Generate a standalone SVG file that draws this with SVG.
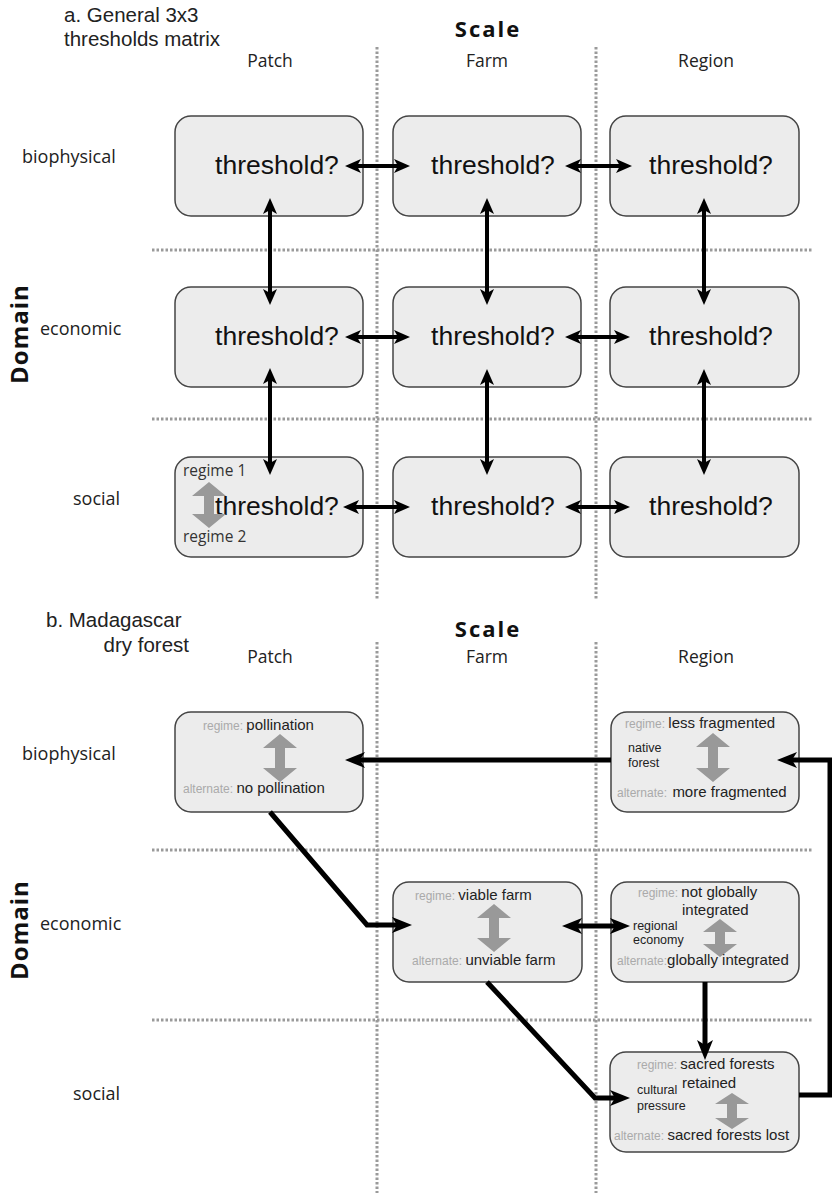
<svg xmlns="http://www.w3.org/2000/svg" width="832" height="1195" viewBox="0 0 832 1195">
<style>
.bg{fill:#fff}
.dot{stroke:#9a9a9a;stroke-width:3;stroke-dasharray:2.5 2;fill:none}
.box{fill:#ececec;stroke:#444;stroke-width:1.5}
.ttl{font-family:"Liberation Sans",Arial,sans-serif;font-size:20.5px;fill:#222}
.scale{font-family:"Open Sans","DejaVu Sans",sans-serif;font-weight:bold;font-size:22px;letter-spacing:2px;fill:#111}
.dom{font-family:"Open Sans","DejaVu Sans",sans-serif;font-weight:bold;font-size:24px;letter-spacing:1px;fill:#111}
.col{font-family:"Open Sans","DejaVu Sans",sans-serif;font-size:17.5px;fill:#222}
.row{font-family:"Open Sans","DejaVu Sans",sans-serif;font-size:18px;fill:#222}
.thr{font-family:"Liberation Sans",Arial,sans-serif;font-size:26.5px;fill:#111}
.reg{font-family:"Open Sans","DejaVu Sans",sans-serif;font-size:15.5px;fill:#333}
.lab{font-family:"Liberation Sans",Arial,sans-serif;font-size:12px;fill:#aaa}
.val{font-family:"Liberation Sans",Arial,sans-serif;font-size:15px;fill:#222}
.sm{font-family:"Liberation Sans",Arial,sans-serif;font-size:12.5px;fill:#222}
.ga{fill:#999}
.ca{stroke:#000;stroke-width:4;fill:none;marker-start:url(#ah);marker-end:url(#ah)}
.cb{stroke:#000;stroke-width:5;fill:none;stroke-linejoin:miter;marker-end:url(#bh)}
</style>
<defs>
<marker id="ah" viewBox="0 0 16 14" refX="4" refY="7" markerWidth="16" markerHeight="14" markerUnits="userSpaceOnUse" orient="auto-start-reverse">
<path d="M0,0 L16,7 L0,14 L4,7 Z" fill="#000"/>
</marker>
<marker id="bh" viewBox="0 0 20 16" refX="5" refY="8" markerWidth="20" markerHeight="16" markerUnits="userSpaceOnUse" orient="auto-start-reverse">
<path d="M0,0 L20,8 L0,16 L5,8 Z" fill="#000"/>
</marker>
</defs>
<rect class="bg" x="0" y="0" width="832" height="1195"/>

<!-- ===== Part a ===== -->
<g id="grid-a">
<line class="dot" x1="377" y1="47" x2="377" y2="600"/>
<line class="dot" x1="596" y1="47" x2="596" y2="600"/>
<line class="dot" x1="152" y1="250" x2="812" y2="250"/>
<line class="dot" x1="152" y1="419" x2="812" y2="419"/>
</g>
<g id="labels-a">
<text class="ttl" x="64" y="22">a. General 3x3</text>
<text class="ttl" x="64" y="46">thresholds matrix</text>
<text class="scale" x="488" y="37" text-anchor="middle">Scale</text>
<text class="col" x="270" y="67" text-anchor="middle">Patch</text>
<text class="col" x="487" y="67" text-anchor="middle">Farm</text>
<text class="col" x="706" y="67" text-anchor="middle">Region</text>
<text class="row" x="22" y="163">biophysical</text>
<text class="row" x="40" y="335">economic</text>
<text class="row" x="73" y="505">social</text>
<text class="dom" transform="translate(28,334) rotate(-90)" text-anchor="middle">Domain</text>
</g>

<g id="a-bio-patch"><rect class="box" x="175" y="116" width="188" height="100" rx="16"/><text class="thr" x="277" y="174" text-anchor="middle">threshold?</text></g>
<g id="a-bio-farm"><rect class="box" x="393" y="116" width="188" height="100" rx="16"/><text class="thr" x="493" y="174" text-anchor="middle">threshold?</text></g>
<g id="a-bio-region"><rect class="box" x="610" y="116" width="189" height="100" rx="16"/><text class="thr" x="711" y="174" text-anchor="middle">threshold?</text></g>
<g id="a-eco-patch"><rect class="box" x="175" y="287" width="188" height="100" rx="16"/><text class="thr" x="277" y="345" text-anchor="middle">threshold?</text></g>
<g id="a-eco-farm"><rect class="box" x="393" y="287" width="188" height="100" rx="16"/><text class="thr" x="493" y="345" text-anchor="middle">threshold?</text></g>
<g id="a-eco-region"><rect class="box" x="610" y="287" width="189" height="100" rx="16"/><text class="thr" x="711" y="345" text-anchor="middle">threshold?</text></g>
<g id="a-soc-patch"><rect class="box" x="175" y="457" width="188" height="100" rx="16"/><text class="thr" x="277" y="515" text-anchor="middle">threshold?</text>
<text class="reg" x="183" y="476">regime 1</text><text class="reg" x="183" y="542">regime 2</text>
<polygon class="ga" points="209,482 226,496 214,496 214,514 226,514 209,528 192,514 204,514 204,496 192,496"/></g>
<g id="a-soc-farm"><rect class="box" x="393" y="457" width="188" height="100" rx="16"/><text class="thr" x="493" y="515" text-anchor="middle">threshold?</text></g>
<g id="a-soc-region"><rect class="box" x="610" y="457" width="189" height="100" rx="16"/><text class="thr" x="711" y="515" text-anchor="middle">threshold?</text></g>

<g id="connectors-a">
<line class="ca" x1="357" y1="166" x2="398" y2="166"/>
<line class="ca" x1="577" y1="166" x2="620" y2="166"/>
<line class="ca" x1="357" y1="337" x2="398" y2="337"/>
<line class="ca" x1="577" y1="337" x2="618" y2="337"/>
<line class="ca" x1="355" y1="507" x2="398" y2="507"/>
<line class="ca" x1="577" y1="507" x2="618" y2="507"/>
<line class="ca" x1="270" y1="210" x2="270" y2="293"/>
<line class="ca" x1="487" y1="210" x2="487" y2="293"/>
<line class="ca" x1="704" y1="210" x2="704" y2="293"/>
<line class="ca" x1="270" y1="380" x2="270" y2="463"/>
<line class="ca" x1="487" y1="381" x2="487" y2="463"/>
<line class="ca" x1="704" y1="381" x2="704" y2="463"/>
</g>

<!-- ===== Part b ===== -->
<g id="grid-b">
<line class="dot" x1="377" y1="642" x2="377" y2="1193"/>
<line class="dot" x1="596" y1="642" x2="596" y2="1193"/>
<line class="dot" x1="152" y1="850" x2="812" y2="850"/>
<line class="dot" x1="152" y1="1020" x2="812" y2="1020"/>
</g>
<g id="labels-b">
<text class="ttl" x="46" y="627">b. Madagascar</text>
<text class="ttl" x="189" y="652" text-anchor="end">dry forest</text>
<text class="scale" x="488" y="637" text-anchor="middle">Scale</text>
<text class="col" x="270" y="663" text-anchor="middle">Patch</text>
<text class="col" x="487" y="663" text-anchor="middle">Farm</text>
<text class="col" x="706" y="663" text-anchor="middle">Region</text>
<text class="row" x="22" y="760">biophysical</text>
<text class="row" x="40" y="930">economic</text>
<text class="row" x="73" y="1100">social</text>
<text class="dom" transform="translate(28,930) rotate(-90)" text-anchor="middle">Domain</text>
</g>

<g id="b-bio-patch"><rect class="box" x="175" y="712" width="188" height="100" rx="16"/>
<text x="203" y="730"><tspan class="lab">regime: </tspan><tspan class="val">pollination</tspan></text>
<polygon class="ga" points="280,734 297,748 285,748 285,768 297,768 280,782 263,768 275,768 275,748 263,748"/>
<text x="183" y="793"><tspan class="lab">alternate: </tspan><tspan class="val">no pollination</tspan></text></g>

<g id="b-bio-region"><rect class="box" x="611" y="712" width="188" height="100" rx="16"/>
<text x="625" y="728"><tspan class="lab">regime: </tspan><tspan class="val">less fragmented</tspan></text>
<text class="sm" x="628" y="752">native</text><text class="sm" x="628" y="767">forest</text>
<polygon class="ga" points="713,733 730,747 718,747 718,768 730,768 713,782 696,768 708,768 708,747 696,747"/>
<text x="617" y="797"><tspan class="lab">alternate: </tspan><tspan class="val" dx="2">more fragmented</tspan></text></g>

<g id="b-eco-farm"><rect class="box" x="393" y="882" width="189" height="100" rx="16"/>
<text x="415" y="900"><tspan class="lab">regime: </tspan><tspan class="val">viable farm</tspan></text>
<polygon class="ga" points="494,904 511,918 499,918 499,938 511,938 494,952 477,938 489,938 489,918 477,918"/>
<text x="412" y="965"><tspan class="lab">alternate: </tspan><tspan class="val">unviable farm</tspan></text></g>

<g id="b-eco-region"><rect class="box" x="611" y="882" width="188" height="100" rx="16"/>
<text x="638" y="897"><tspan class="lab">regime: </tspan><tspan class="val">not globally</tspan></text>
<text class="val" x="682" y="915">integrated</text>
<text class="sm" x="633" y="930">regional</text><text class="sm" x="633" y="944">economy</text>
<polygon class="ga" points="720,919 737,932 725,932 725,944 737,944 720,957 703,944 715,944 715,932 703,932"/>
<text x="617" y="965"><tspan class="lab">alternate:</tspan><tspan class="val">globally integrated</tspan></text></g>

<g id="b-soc-region"><rect class="box" x="610" y="1052" width="189" height="100" rx="16"/>
<text x="637" y="1069"><tspan class="lab">regime: </tspan><tspan class="val">sacred forests</tspan></text>
<text class="val" x="682" y="1088">retained</text>
<text class="sm" x="637" y="1094">cultural</text><text class="sm" x="637" y="1110">pressure</text>
<polygon class="ga" points="732,1093 749,1104 737,1104 737,1118 749,1118 732,1129 715,1118 727,1118 727,1104 715,1104"/>
<text x="614" y="1140"><tspan class="lab">alternate: </tspan><tspan class="val">sacred forests lost</tspan></text></g>

<g id="connectors-b">
<line class="cb" x1="611" y1="760" x2="360" y2="760"/>
<polyline class="cb" points="799,1095 830,1095 830,760 792,760"/>
<polyline class="cb" points="270,812 367,925 397,925"/>
<line class="cb" x1="577" y1="926" x2="615" y2="926" style="marker-start:url(#bh)"/>
<line class="cb" x1="705" y1="982" x2="705" y2="1045"/>
<polyline class="cb" points="487,982 595,1098 615,1098"/>
</g>
</svg>
